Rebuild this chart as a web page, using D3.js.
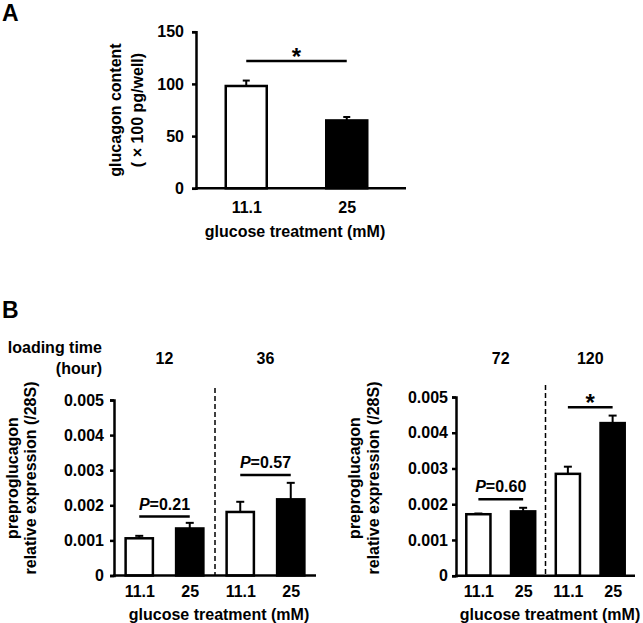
<!DOCTYPE html>
<html><head><meta charset="utf-8">
<script src="https://cdn.jsdelivr.net/npm/d3@7"></script>
<style>
body{margin:0;background:#fff;}
svg{display:block;font-family:"Liberation Sans",Arial,sans-serif;font-weight:bold;}
</style></head><body>
<svg id="chart" width="643" height="623"></svg>
<script>
// ---------- DATA ----------
// Panel A
const aCategories = ["11.1", "25"];
const aValues = [98, 65];
const aErrors = [5.2, 3.3];
const aTicks = [0, 50, 100, 150];
const aSigLabel = "*";
const aSigValue = 122;

// Panel B
const bTimes = ["12", "36", "72", "120"];
const bGlucose = ["11.1", "25"];
const bMean11 = [0.00106, 0.00181, 0.00172, 0.00285];
const bMean25 = [0.00134, 0.00217, 0.00180, 0.00427];
const bErr11 = [0.00007, 0.00029, 0.00002, 0.00020];
const bErr25 = [0.00016, 0.00047, 0.00010, 0.00021];
const bTicks = [0, 0.001, 0.002, 0.003, 0.004, 0.005];
const bSigPrefix = ["P", "P", "P", ""];
const bSigText = ["=0.21", "=0.57", "=0.60", "*"];
const bSigValue = [0.00168, 0.00286, 0.00214, 0.00471];

// ---------- DRAWING ----------
const svg = d3.select("#chart");
const FONT = '"Liberation Sans", Arial, sans-serif';
const SW = 2.5;

function drawYAxis(x, y, ticks, fmt, pad) {
  const ax = d3.axisLeft(y).tickValues(ticks).tickFormat(fmt)
    .tickSizeOuter(0).tickSize(4).tickPadding(pad);
  const g = svg.append("g").attr("transform", `translate(${x},0)`).call(ax)
    .attr("font-family", FONT).attr("font-size", 16).attr("font-weight", "bold");
  g.select(".domain").attr("stroke", "#000").attr("stroke-width", SW);
  g.selectAll(".tick line").attr("stroke", "#000").attr("stroke-width", SW);
  g.selectAll(".tick text").attr("fill", "#000");
  return g;
}

function drawXAxis(x0, x1, y0, xScale, labels, labelY) {
  svg.append("line").attr("x1", x0 - 1).attr("x2", x1).attr("y1", y0).attr("y2", y0)
    .attr("stroke", "#000").attr("stroke-width", SW);
  const ax = d3.axisBottom(xScale).tickSize(0).tickPadding(0)
    .tickFormat((d, i) => labels[i]);
  const g = svg.append("g").attr("transform", `translate(0,${labelY})`).call(ax)
    .attr("font-family", FONT).attr("font-size", 16).attr("font-weight", "bold");
  g.select(".domain").remove();
  g.selectAll(".tick text").attr("fill", "#000").attr("dy", 0).attr("y", 0);
}

function drawBars(xScale, yScale, keys, values, errors, fills, bw, capW) {
  keys.forEach((k, i) => {
    const cx = xScale(k);
    const top = yScale(values[i]);
    const etop = yScale(values[i] + errors[i]);
    svg.append("line").attr("x1", cx).attr("x2", cx).attr("y1", top).attr("y2", etop)
      .attr("stroke", "#000").attr("stroke-width", 2);
    svg.append("line").attr("x1", cx - capW / 2).attr("x2", cx + capW / 2).attr("y1", etop).attr("y2", etop)
      .attr("stroke", "#000").attr("stroke-width", 2);
    svg.append("rect").attr("x", cx - bw / 2).attr("y", top)
      .attr("width", bw).attr("height", yScale(0) - top)
      .attr("fill", fills[i]).attr("stroke", "#000").attr("stroke-width", SW);
  });
}

function sig(x1, x2, yv, prefix, text, size) {
  svg.append("line").attr("x1", x1).attr("x2", x2).attr("y1", yv).attr("y2", yv)
    .attr("stroke", "#000").attr("stroke-width", 2.5);
  const t = svg.append("text").attr("x", (x1 + x2) / 2)
    .attr("y", text === "*" ? yv + 4 : yv - 7)
    .attr("text-anchor", "middle").attr("font-size", size).attr("font-weight", "bold");
  if (prefix) t.append("tspan").attr("font-style", "italic").text(prefix);
  t.append("tspan").text(text);
}

function rotTitle(lines, xs, cy) {
  lines.forEach((s, i) => {
    svg.append("text").attr("transform", `translate(${xs[i]},${cy}) rotate(-90)`)
      .attr("text-anchor", "middle").attr("font-size", 16).attr("font-weight", "bold").text(s);
  });
}

// ---------- Panel A ----------
svg.append("text").attr("x", 2).attr("y", 21).attr("font-size", 23).attr("font-weight", "bold").text("A");
const yA = d3.scaleLinear().domain([0, 150]).range([188.3, 31.7]);
const xA = d3.scalePoint().domain(aCategories).range([196, 397]).padding(0.5);
drawBars(xA, yA, aCategories, aValues, aErrors, ["#fff", "#000"], 41, 7);
drawYAxis(196, yA, aTicks, d3.format("d"), 8);
drawXAxis(196, 406, yA(0), xA, aCategories, 213);
svg.append("text").attr("x", 295).attr("y", 237).attr("text-anchor", "middle")
  .attr("font-size", 16).attr("font-weight", "bold").text("glucose treatment (mM)");
rotTitle(["glucagon content", "( \u00d7 100 pg/well)"], [121, 143], 110);
sig(xA(aCategories[0]), xA(aCategories[1]), yA(aSigValue), "", aSigLabel, 24);

// ---------- Panel B ----------
svg.append("text").attr("x", 2).attr("y", 318).attr("font-size", 23).attr("font-weight", "bold").text("B");
svg.append("text").attr("x", 102).attr("y", 353).attr("text-anchor", "end")
  .attr("font-size", 16).attr("font-weight", "bold").text("loading time");
svg.append("text").attr("x", 102).attr("y", 374).attr("text-anchor", "end")
  .attr("font-size", 16).attr("font-weight", "bold").text("(hour)");

const bFmt = d => d === 0 ? "0" : d3.format(".3f")(d);
const subPanels = [
  { times: [0, 1], axisX: 114, axisEnd: 316, yRange: [575.5, 400], pad: 6, titleX: [17.5, 35.7], xTitle: 219 },
  { times: [2, 3], axisX: 456, axisEnd: 635, yRange: [575.7, 397], pad: 4, titleX: [360, 379], xTitle: 550 }
];

subPanels.forEach(p => {
  const y = d3.scaleLinear().domain([0, 0.005]).range(p.yRange);
  const keys = [], vals = [], errs = [], fills = [], labels = [];
  p.times.forEach(ti => {
    bGlucose.forEach((gl, gi) => {
      keys.push(bTimes[ti] + "-" + gl);
      vals.push(gi === 0 ? bMean11[ti] : bMean25[ti]);
      errs.push(gi === 0 ? bErr11[ti] : bErr25[ti]);
      fills.push(gi === 0 ? "#fff" : "#000");
      labels.push(gl);
    });
  });
  const x = d3.scalePoint().domain(keys).range([p.axisX, p.axisEnd]).padding(0.5);
  const step = x.step();
  // dashed separator
  const dx = (x(keys[1]) + x(keys[2])) / 2;
  svg.append("line").attr("x1", dx).attr("x2", dx).attr("y1", p.yRange[1] - 12).attr("y2", p.yRange[0])
    .attr("stroke", "#000").attr("stroke-width", 1.5).attr("stroke-dasharray", "5,3");
  drawBars(x, y, keys, vals, errs, fills, step * 0.54, 8);
  drawYAxis(p.axisX, y, bTicks, bFmt, p.pad);
  drawXAxis(p.axisX, p.axisEnd, y(0), x, labels, 597);
  svg.append("text").attr("x", p.xTitle).attr("y", 620).attr("text-anchor", "middle")
    .attr("font-size", 16).attr("font-weight", "bold").text("glucose treatment (mM)");
  rotTitle(["preproglucagon", "relative expression (/28S)"], p.titleX, 478);
  p.times.forEach((ti, j) => {
    const k1 = keys[j * 2], k2 = keys[j * 2 + 1];
    svg.append("text").attr("x", (x(k1) + x(k2)) / 2).attr("y", 364).attr("text-anchor", "middle")
      .attr("font-size", 16).attr("font-weight", "bold").text(bTimes[ti]);
    sig(x(k1), x(k2), y(bSigValue[ti]), bSigPrefix[ti], bSigText[ti], bSigText[ti] === "*" ? 24 : 16);
  });
});
</script>
</body></html>
